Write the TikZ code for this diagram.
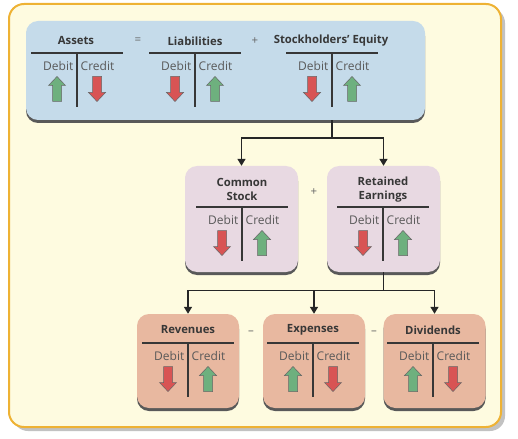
\documentclass[tikz,border=0pt]{standalone}
\usepackage{fontspec}
\setmainfont{Open Sans}
\usetikzlibrary{arrows.meta,shadows,positioning}

\definecolor{framefill}{RGB}{254,251,224}
\definecolor{frameline}{RGB}{238,178,52}
\definecolor{eqblue}{RGB}{197,219,234}
\definecolor{sepink}{RGB}{232,217,226}
\definecolor{resalmon}{RGB}{232,184,160}
\definecolor{upgreen}{RGB}{110,176,126}
\definecolor{downred}{RGB}{216,84,84}
\definecolor{txtgray}{RGB}{55,55,55}

\tikzset{
  acctbox/.style={rounded corners=12pt, inner sep=0pt,
    drop shadow={shadow xshift=0pt, shadow yshift=-3pt, fill=black!65, opacity=1}},
  title/.style={font=\bfseries\fontsize{11.3}{14.5}\selectfont, text=txtgray, inner sep=0pt, align=center},
  opsign/.style={font=\fontsize{11.5}{12}\selectfont, text=black!60, inner sep=0pt},
  dc/.style={font=\fontsize{12}{13}\selectfont, text=black!65, inner sep=0pt},
  tline/.style={line width=1.1pt, draw=txtgray},
  arrbody/.style={draw=black!60, line width=0.5pt},
  conn/.style={line width=1.4pt, draw=black!85, -{Triangle[length=7pt,width=8pt]}},
  pics/uparr/.style={code={
    \draw[arrbody, fill=upgreen] (-4.5,12.5) -- (-4.5,-3.5) -- (-8.5,-3.5) -- (0,-12.5)
      -- (8.5,-3.5) -- (4.5,-3.5) -- (4.5,12.5) -- cycle;
  }},
  pics/downarr/.style={code={
    \draw[arrbody, fill=downred] (-4.5,-12.5) -- (-4.5,3.5) -- (-8.5,3.5) -- (0,12.5)
      -- (8.5,3.5) -- (4.5,3.5) -- (4.5,-12.5) -- cycle;
  }},
  pics/tacct/.style 2 args={code={
    \draw[tline] (-46,0) -- (46,0);
    \draw[tline] (0,0) -- (0,54);
    \node[dc, anchor=east] (-deb) at (-3.5,13) {Debit};
    \node[dc, anchor=west] (-cred) at (3.5,13) {Credit};
    \pic at (-20,36) {#1};
    \pic at (20,36) {#2};
  }},
}

\begin{document}
\begin{tikzpicture}[x=1pt, y=-1pt]
\useasboundingbox (0,0) rectangle (518,438);

% outer frame
\draw[rounded corners=15pt, line width=2pt, draw=frameline, fill=framefill,
  drop shadow={shadow xshift=4pt, shadow yshift=-4pt, fill=black!40, opacity=0.6}]
  (9,4) rectangle (501,427);

% boxes
\node[acctbox, fill=eqblue, minimum width=399pt, minimum height=99pt] (eq) at (225.5,70.5) {};
\node[acctbox, fill=sepink, minimum width=113pt, minimum height=106pt] (cs) at (241.5,219) {};
\node[acctbox, fill=sepink, minimum width=113pt, minimum height=106pt] (re) at (383.5,219) {};
\node[acctbox, fill=resalmon, minimum width=102pt, minimum height=94pt] (rev) at (188,361) {};
\node[acctbox, fill=resalmon, minimum width=102pt, minimum height=94pt] (exp) at (314,361) {};
\node[acctbox, fill=resalmon, minimum width=102pt, minimum height=94pt] (div) at (434.5,361) {};

% accounting equation
\node[title] (asT) at (76,41) {Assets};
\node[opsign] (eqsign) at (138,41) {=};
\node[title] (liT) at (195,41) {Liabilities};
\node[opsign] (plus1) at (255,41) {+};
\node[title] (seT) at (331,41) {Stockholders’ Equity};
\pic (as) at (77,53) {tacct={uparr}{downarr}};
\pic (li) at (195,53) {tacct={downarr}{uparr}};
\pic (se) at (332,53) {tacct={downarr}{uparr}};
\coordinate (seV) at (332,53);

% stockholders' equity
\node[title] (csT) at (242,189.5) {Common\\Stock};
\node[opsign] (plus2) at (314,192) {+};
\node[title] (reT) at (383,189.5) {Retained\\Earnings};
\pic (csa) at (242,207) {tacct={downarr}{uparr}};
\pic (rea) at (383,207) {tacct={downarr}{uparr}};

% retained earnings
\node[title] (revT) at (188,330) {Revenues};
\node[opsign] (minus1) at (251,333) {–};
\node[title] (expT) at (313,330) {Expenses};
\node[opsign] (minus2) at (374,333) {–};
\node[title] (divT) at (433,330) {Dividends};
\pic (reva) at (188,343) {tacct={downarr}{uparr}};
\pic (expa) at (313,343) {tacct={uparr}{downarr}};
\pic (diva) at (433,343) {tacct={uparr}{downarr}};

% connectors
\draw[conn] (eq.south -| seV) -- ++(0,18) coordinate (split1) -| (cs.north);
\draw[conn] (split1) -| (re.north);
\draw[conn] (re.south) -- ++(0,18) coordinate (split2) -| (rev.north);
\draw[conn] (split2) -| (exp.north);
\draw[conn] (split2) -| (div.north);

\end{tikzpicture}
\end{document}
